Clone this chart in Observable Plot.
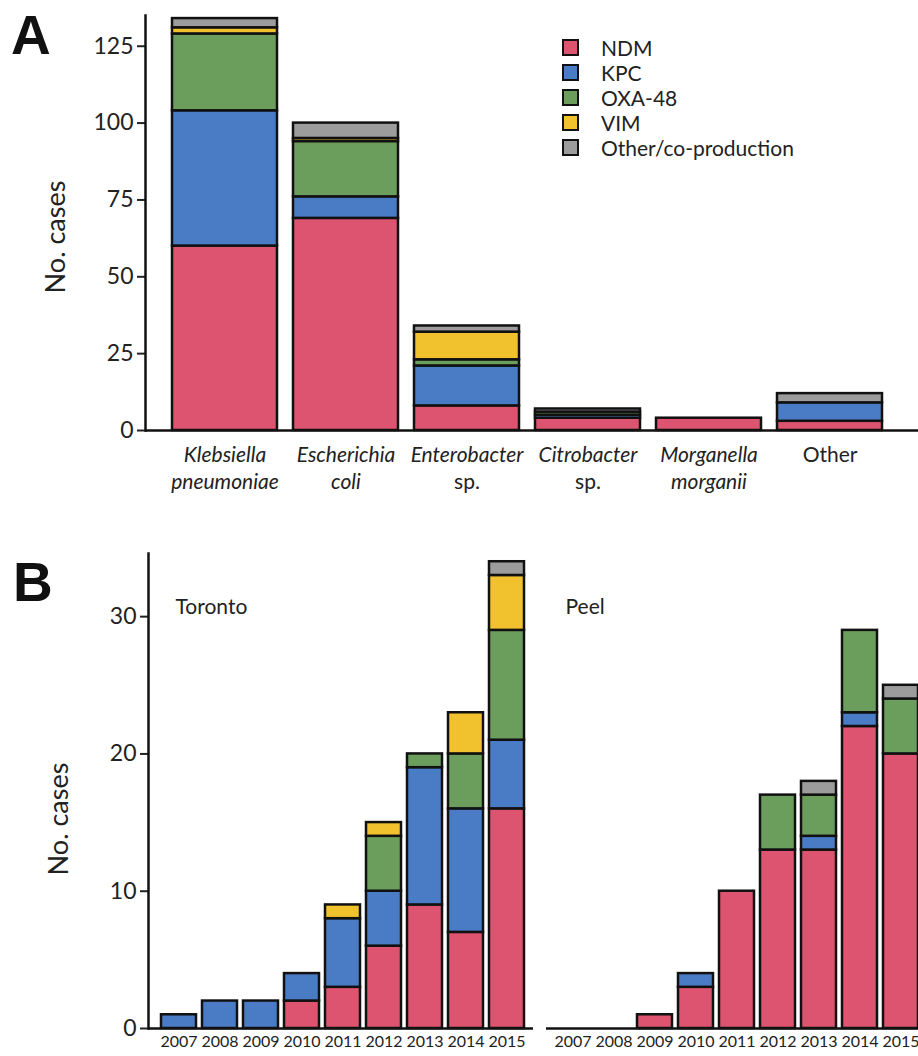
<!DOCTYPE html>
<html><head><meta charset="utf-8">
<script src="https://cdn.jsdelivr.net/npm/d3@7"></script>
<script src="https://cdn.jsdelivr.net/npm/@observablehq/plot@0.6"></script>
<style>
html,body{margin:0;padding:0;background:#fff;overflow:hidden;}
#root{position:relative;width:918px;height:1056px;overflow:hidden;font-family:Lato,sans-serif;color:#222;}
.abs{position:absolute;}
.letter{font-family:"Liberation Sans",Arial,sans-serif;font-weight:bold;font-size:55px;line-height:1;color:#111;}
.legend-row{display:flex;align-items:center;height:25px;font-size:21px;color:#222;}
.legend-sw{width:17px;height:17px;box-sizing:border-box;border:2px solid #111;margin-right:22px;}
</style></head><body><div id="root"></div>
<script>
// ---- shared categories
const types = ["NDM", "KPC", "OXA-48", "VIM", "Other/co-production"];
const typeColors = ["#dc5470", "#4a7cc6", "#6b9e5d", "#f1c22e", "#9c9c9c"];

// ---- Panel A: organisms
const organisms = ["Klebsiella\npneumoniae", "Escherichia\ncoli", "Enterobacter\nsp.", "Citrobacter\nsp.", "Morganella\nmorganii", "Other"];
const orgNDM   = [60, 69, 8, 4, 4, 3];
const orgKPC   = [44, 7, 13, 1, 0, 6];
const orgOXA   = [25, 18, 2, 1, 0, 0];
const orgVIM   = [2, 1, 9, 0, 0, 0];
const orgOther = [3, 5, 2, 1, 0, 3];
const yTicksA = [0, 25, 50, 75, 100, 125];

// ---- Panel B: years by region
const years = ["2007", "2008", "2009", "2010", "2011", "2012", "2013", "2014", "2015"];
const torNDM   = [0, 0, 0, 2, 3, 6, 9, 7, 16];
const torKPC   = [1, 2, 2, 2, 5, 4, 10, 9, 5];
const torOXA   = [0, 0, 0, 0, 0, 4, 1, 4, 8];
const torVIM   = [0, 0, 0, 0, 1, 1, 0, 3, 4];
const torOther = [0, 0, 0, 0, 0, 0, 0, 0, 1];
const peelNDM   = [0, 0, 1, 3, 10, 13, 13, 22, 20];
const peelKPC   = [0, 0, 0, 1, 0, 0, 1, 1, 0];
const peelOXA   = [0, 0, 0, 0, 0, 4, 3, 6, 4];
const peelVIM   = [0, 0, 0, 0, 0, 0, 0, 0, 0];
const peelOther = [0, 0, 0, 0, 0, 0, 1, 0, 1];
const yTicksB = [0, 10, 20, 30];

function rows(cats, series) {
  const out = [];
  cats.forEach((c, i) => series.forEach((s, k) => { if (s[i] > 0) out.push({cat: c, type: types[k], value: s[i]}); }));
  return out;
}
const rowsA = rows(organisms, [orgNDM, orgKPC, orgOXA, orgVIM, orgOther]);
const rowsTor = rows(years, [torNDM, torKPC, torOXA, torVIM, torOther]);
const rowsPeel = rows(years, [peelNDM, peelKPC, peelOXA, peelVIM, peelOther]);

const root = document.getElementById("root");
const baseStyle = {fontFamily: "Lato, sans-serif", color: "#222", background: "transparent", overflow: "visible"};
const colorScale = {domain: types, range: typeColors};
const barOpts = {x: "cat", y: "value", fill: "type", z: "type", stroke: "#111", strokeWidth: 2.5};

function place(node, left, top) {
  node.style.position = "absolute";
  node.style.left = left + "px";
  node.style.top = top + "px";
  root.appendChild(node);
}

// ---- Panel A
const plotA = Plot.plot({
  width: 918, height: 500,
  marginLeft: 145, marginRight: 0, marginTop: 15, marginBottom: 70,
  style: baseStyle,
  x: {domain: organisms, insetLeft: 10, insetRight: 18, padding: 0.13, label: null},
  y: {domain: [0, 135], label: null},
  color: colorScale,
  marks: [
    Plot.barY(rowsA, Plot.stackY({order: types}, barOpts)),
    Plot.axisY({ticks: yTicksA, tickSize: 8, tickPadding: 4, fontSize: 23, strokeWidth: 2, label: null}),
    Plot.axisX({tickSize: 0, tickPadding: 12, fontSize: 21, lineHeight: 1.3, label: null}),
    Plot.ruleY([0], {stroke: "#111", strokeWidth: 2.5}),
    Plot.frame({anchor: "left", stroke: "#111", strokeWidth: 2.5}),
    Plot.text(["No. cases"], {frameAnchor: "left", rotate: -90, dx: -89, dy: 14, textAnchor: "middle", lineAnchor: "middle", text: d => d, fontSize: 27})
  ]
});
place(plotA, 0, 0);
d3.select(plotA).selectAll('g[aria-label="x-axis tick label"] text').each(function() {
  const spans = d3.select(this).selectAll("tspan");
  if (spans.size() > 0) {
    spans.attr("font-style", function() { return this.textContent.trim() === "sp." ? "normal" : "italic"; });
  }
});

// ---- Panel B, Toronto
const plotTor = Plot.plot({
  width: 533, height: 516,
  marginLeft: 148, marginRight: 0, marginTop: 13, marginBottom: 28,
  style: baseStyle,
  x: {domain: years, insetLeft: 7, insetRight: 3, padding: 0.14, label: null},
  y: {domain: [0, 34.6], label: null},
  color: colorScale,
  marks: [
    Plot.barY(rowsTor, Plot.stackY({order: types}, barOpts)),
    Plot.axisY({ticks: yTicksB, tickSize: 8, tickPadding: 4, fontSize: 23, strokeWidth: 2, label: null}),
    Plot.axisX({tickSize: 0, tickPadding: 7, fontSize: 16, label: null}),
    Plot.ruleY([0], {stroke: "#111", strokeWidth: 2.5}),
    Plot.frame({anchor: "left", stroke: "#111", strokeWidth: 2.5}),
    Plot.text(["No. cases"], {frameAnchor: "left", rotate: -90, dx: -89, dy: 28, textAnchor: "middle", lineAnchor: "middle", text: d => d, fontSize: 27}),
    Plot.text(["Toronto"], {frameAnchor: "top-left", dx: 27, dy: 54, lineAnchor: "middle", textAnchor: "start", text: d => d, fontSize: 21})
  ]
});
place(plotTor, 0, 540);

// ---- Panel B, Peel
const plotPeel = Plot.plot({
  width: 380, height: 516,
  marginLeft: 0, marginRight: 0, marginTop: 13, marginBottom: 28,
  style: baseStyle,
  x: {domain: years, insetLeft: 2, insetRight: 0, padding: 0.14, label: null},
  y: {domain: [0, 34.6], label: null, axis: null},
  color: colorScale,
  marks: [
    Plot.barY(rowsPeel, Plot.stackY({order: types}, barOpts)),
    Plot.axisX({tickSize: 0, tickPadding: 7, fontSize: 16, label: null}),
    Plot.ruleY([0], {stroke: "#111", strokeWidth: 2.5}),
    Plot.text(["Peel"], {frameAnchor: "top-left", dx: 19, dy: 54, lineAnchor: "middle", textAnchor: "start", text: d => d, fontSize: 21})
  ]
});
place(plotPeel, 546, 540);

// ---- Legend
const legend = d3.create("div").attr("class", "abs").style("left", "562px").style("top", "35px");
types.forEach((t, i) => {
  const row = legend.append("div").attr("class", "legend-row");
  row.append("div").attr("class", "legend-sw").style("background", typeColors[i]);
  row.append("span").text(t);
});
root.appendChild(legend.node());

// ---- Panel letters
const la = d3.create("div").attr("class", "abs letter").style("left", "11px").style("top", "8px").text("A");
const lb = d3.create("div").attr("class", "abs letter").style("left", "13px").style("top", "555px").text("B");
root.appendChild(la.node());
root.appendChild(lb.node());
</script></body></html>
